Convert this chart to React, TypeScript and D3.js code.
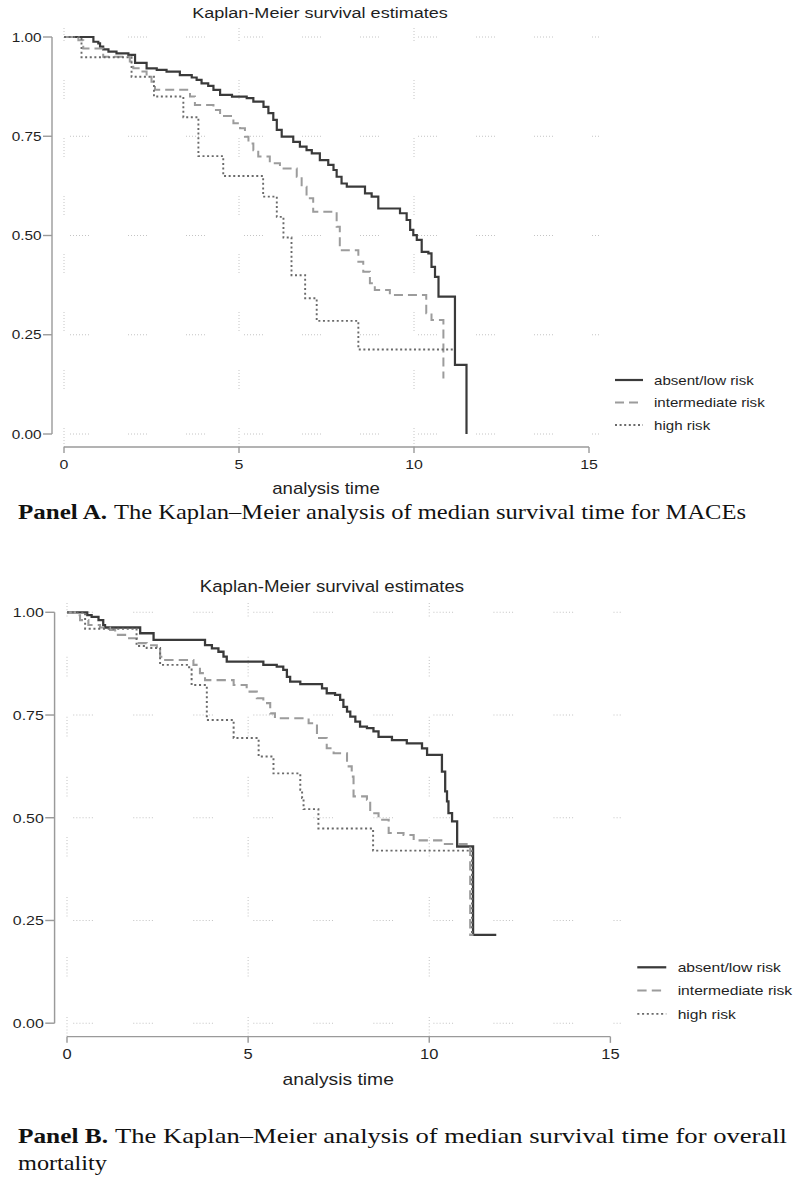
import React from 'react';
import * as d3 from 'd3';

// axis ticks and legend labels
const xTicks = [0, 5, 10, 15];
const yTicks = [0, 0.25, 0.5, 0.75, 1];
const groups = ['absent/low risk', 'intermediate risk', 'high risk'];

// Panel A (MACEs): [time, survival after the drop]
const maceLow = [[0.84,0.988],[0.98,0.984],[1.03,0.976],[1.12,0.969],[1.27,0.963],[1.5,0.959],[1.84,0.955],[2.03,0.935],[2.36,0.921],[2.65,0.917],[2.93,0.913],[3.31,0.904],[3.65,0.898],[3.79,0.892],[3.93,0.883],[4.12,0.877],[4.27,0.867],[4.46,0.854],[4.8,0.85],[5.22,0.846],[5.41,0.837],[5.7,0.824],[5.84,0.808],[5.98,0.791],[6.08,0.766],[6.22,0.749],[6.55,0.736],[6.74,0.724],[6.93,0.715],[7.08,0.707],[7.31,0.69],[7.55,0.678],[7.7,0.665],[7.79,0.648],[7.93,0.631],[8.08,0.623],[8.6,0.606],[8.79,0.598],[8.98,0.568],[9.6,0.556],[9.79,0.539],[9.89,0.514],[9.98,0.501],[10.08,0.489],[10.22,0.459],[10.41,0.455],[10.5,0.421],[10.6,0.396],[10.7,0.346],[11.17,0.174],[11.5,0]];
const maceMid = [[0.41,0.992],[0.55,0.971],[1.12,0.95],[1.88,0.938],[1.98,0.921],[2.17,0.913],[2.36,0.9],[2.5,0.887],[2.6,0.867],[3.6,0.85],[3.74,0.829],[4.27,0.816],[4.46,0.801],[4.84,0.783],[5.03,0.77],[5.17,0.749],[5.27,0.732],[5.41,0.715],[5.55,0.699],[5.88,0.682],[6.17,0.669],[6.65,0.648],[6.79,0.623],[6.93,0.594],[7.12,0.56],[7.79,0.522],[7.88,0.463],[8.41,0.434],[8.55,0.409],[8.74,0.38],[8.88,0.363],[9.31,0.35],[10.35,0.304],[10.5,0.287],[10.84,0.14]];
const maceHigh = [[0.5,0.949],[1.93,0.9],[2.57,0.85],[3.41,0.798],[3.84,0.7],[4.55,0.65],[5.69,0.598],[6.08,0.547],[6.27,0.495],[6.5,0.4],[6.89,0.342],[7.22,0.285],[8.41,0.213],[11.17,0.213]];

// Panel B (overall mortality)
const mortLow = [[0.56,0.993],[0.68,0.989],[0.87,0.981],[1.0,0.969],[1.05,0.963],[2.02,0.949],[2.39,0.933],[3.81,0.92],[4.0,0.912],[4.18,0.904],[4.32,0.892],[4.41,0.88],[5.42,0.872],[5.79,0.868],[5.97,0.86],[6.07,0.843],[6.16,0.831],[6.44,0.825],[7.04,0.815],[7.17,0.803],[7.4,0.799],[7.54,0.787],[7.63,0.77],[7.73,0.758],[7.82,0.746],[7.96,0.734],[8.09,0.722],[8.28,0.718],[8.46,0.71],[8.6,0.697],[8.97,0.689],[9.38,0.681],[9.8,0.669],[9.94,0.653],[10.35,0.612],[10.44,0.564],[10.49,0.54],[10.53,0.511],[10.63,0.491],[10.77,0.43],[11.21,0.215],[11.85,0.215]];
const mortMid = [[0.22,0.993],[0.36,0.981],[0.59,0.969],[0.91,0.963],[1.19,0.957],[1.33,0.945],[1.65,0.937],[1.93,0.925],[2.2,0.92],[2.48,0.908],[2.57,0.892],[2.71,0.884],[3.49,0.872],[3.67,0.852],[3.81,0.835],[4.6,0.823],[4.96,0.807],[5.24,0.791],[5.42,0.779],[5.61,0.754],[5.74,0.742],[6.67,0.73],[6.9,0.694],[7.17,0.669],[7.36,0.657],[7.73,0.625],[7.86,0.6],[7.91,0.552],[8.28,0.544],[8.37,0.511],[8.6,0.495],[8.88,0.463],[9.29,0.458],[9.57,0.445],[10.4,0.436],[11.13,0.215],[11.22,0.215]];
const mortHigh = [[0.5,0.96],[1.92,0.918],[2.2,0.913],[2.57,0.872],[3.31,0.866],[3.44,0.823],[3.86,0.738],[4.6,0.694],[5.29,0.649],[5.7,0.608],[6.44,0.568],[6.49,0.548],[6.53,0.521],[6.94,0.474],[8.45,0.42],[11.18,0.215],[11.22,0.215]];

const SX = 1.18; // the source image is stretched horizontally
const SANS = "'Liberation Sans', Arial, Helvetica, sans-serif";
const SERIF = "'Liberation Serif', 'Times New Roman', serif";

const lineStyles = [
  { stroke: '#3a3a3a', width: 2.2, dash: undefined },
  { stroke: '#9c9c9c', width: 2, dash: '9 5' },
  { stroke: '#6a6a6a', width: 1.9, dash: '2 2.6' },
];

// stata-like dotted grid: small dotted dash then a gap
const gridDash = [1, 2, 1, 2, 1, 2, 1, 2, 1, 2, 1, 2, 1, 39].join(' ');

const Label = ({ x, y, size, anchor = 'start', fill = '#1f1f1f', children }) => (
  <text
    transform={`translate(${x},${y}) scale(${SX},1)`}
    fontSize={size}
    textAnchor={anchor}
    fill={fill}
    fontFamily={SANS}
  >
    {children}
  </text>
);

const KMPanel = ({ series, transform }) => {
  const x = d3.scaleLinear().domain([0, 15]).range([64, 589]);
  const y = d3.scaleLinear().domain([0, 1]).range([434, 37]);
  const line = d3.line<number[]>()
    .x(d => x(d[0]))
    .y(d => y(d[1]))
    .curve(d3.curveStepAfter);
  const axisColor = '#9a9a9a';
  const fmt = d3.format('.2f');

  return (
    <g transform={transform}>
      <Label x={320} y={17.5} size={15.3} anchor="middle">Kaplan-Meier survival estimates</Label>

      {/* grid */}
      {yTicks.map(t => (
        <line key={'hg' + t} x1={70} x2={600} y1={y(t)} y2={y(t)}
          stroke="#c4c4c4" strokeWidth={1} strokeDasharray={gridDash} />
      ))}
      {xTicks.filter(t => t < 15).map(t => (
        <line key={'vg' + t} x1={x(t)} x2={x(t)} y1={447} y2={27}
          stroke="#c4c4c4" strokeWidth={1} strokeDasharray={gridDash} />
      ))}

      {/* y axis */}
      <line x1={52} x2={52} y1={y(0)} y2={y(1)} stroke={axisColor} strokeWidth={1.4} />
      {yTicks.map(t => (
        <g key={'yt' + t}>
          <line x1={43} x2={52} y1={y(t)} y2={y(t)} stroke={axisColor} strokeWidth={1.4} />
          <Label x={41.5} y={y(t) + 4.7} size={13} anchor="end">{fmt(t)}</Label>
        </g>
      ))}

      {/* x axis */}
      <line x1={x(0)} x2={x(15)} y1={447} y2={447} stroke={axisColor} strokeWidth={1.4} />
      {xTicks.map(t => (
        <g key={'xt' + t}>
          <line x1={x(t)} x2={x(t)} y1={447} y2={453} stroke={axisColor} strokeWidth={1.4} />
          <Label x={x(t)} y={469} size={13.5} anchor="middle">{t}</Label>
        </g>
      ))}
      <Label x={326} y={494} size={15.8} anchor="middle">analysis time</Label>

      {/* survival curves */}
      {series.map((s, i) => (
        <path key={'c' + i} d={line([[0, 1], ...s])} fill="none"
          stroke={lineStyles[i].stroke} strokeWidth={lineStyles[i].width}
          strokeDasharray={lineStyles[i].dash} />
      ))}

      {/* legend */}
      {groups.map((g, i) => {
        const ly = 380 + i * 22.5;
        return (
          <g key={'lg' + i}>
            <line x1={615} x2={643} y1={ly} y2={ly} stroke={lineStyles[i].stroke}
              strokeWidth={lineStyles[i].width} strokeDasharray={lineStyles[i].dash} />
            <Label x={654} y={ly + 4.5} size={12.8}>{g}</Label>
          </g>
        );
      })}
    </g>
  );
};

export default function App() {
  return (
    <svg width={796} height={1177} style={{ position: 'absolute', left: 0, top: 0, background: '#fff' }}>
      <rect width={796} height={1177} fill="#fff" />
      <KMPanel series={[maceLow, maceMid, maceHigh]} transform="translate(0,0)" />
      <text x={18} y={519} fontFamily={SERIF} fontSize={22} fontWeight="bold" fill="#111"
        textLength={89} lengthAdjust="spacingAndGlyphs">Panel A.</text>
      <text x={114} y={519} fontFamily={SERIF} fontSize={22} fill="#111"
        textLength={632} lengthAdjust="spacingAndGlyphs">The Kaplan–Meier analysis of median survival time for MACEs</text>

      <KMPanel series={[mortLow, mortMid, mortHigh]} transform="translate(0.76,574) scale(1.035)" />
      <text x={18} y={1143} fontFamily={SERIF} fontSize={22} fontWeight="bold" fill="#111"
        textLength={90} lengthAdjust="spacingAndGlyphs">Panel B.</text>
      <text x={115} y={1143} fontFamily={SERIF} fontSize={22} fill="#111"
        textLength={672} lengthAdjust="spacingAndGlyphs">The Kaplan–Meier analysis of median survival time for overall</text>
      <text x={18} y={1170} fontFamily={SERIF} fontSize={22} fill="#111"
        textLength={89} lengthAdjust="spacingAndGlyphs">mortality</text>
    </svg>
  );
}
